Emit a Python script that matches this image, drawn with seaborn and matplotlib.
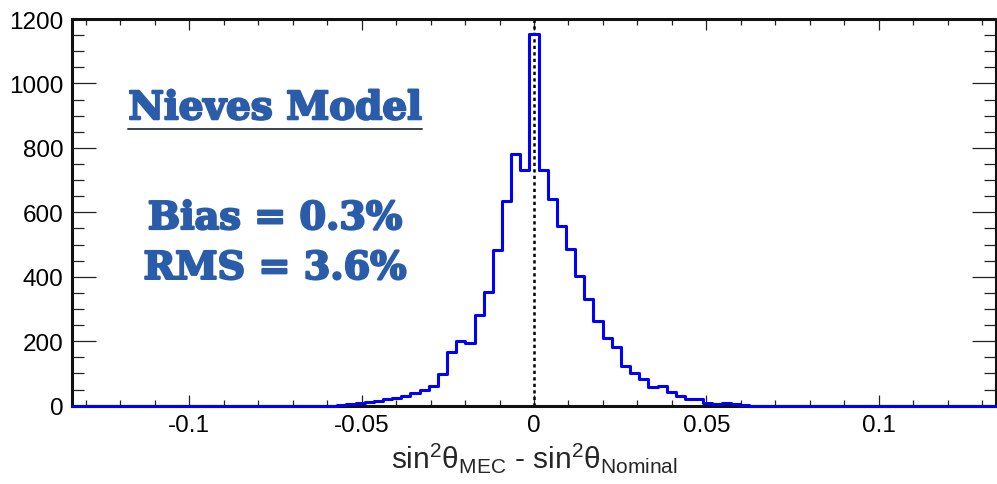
import numpy as np
import pandas as pd
import matplotlib
matplotlib.use("Agg")
import matplotlib.pyplot as plt
import matplotlib.patheffects as pe
import seaborn as sns

# ==============================
# DATA
# ==============================
x_lo, x_hi = -0.134, 0.134
n_bins = 101             # bin 0 is centred on 0
first_bin = -21          # index of the first non-empty bin
counts = [3, 6, 9, 12, 16, 20, 25, 30, 39, 50, 62, 98, 166, 200, 195,
          282, 352, 482, 635, 782, 730, 1155, 732, 640, 559, 487, 402,
          332, 264, 209, 181, 124, 102, 83, 59, 62, 42, 31, 21, 21, 8, 6,
          7, 5, 2]
model_name = "Nieves Model"
stats_text = ["Bias = 0.3%", "RMS = 3.6%"]
x_major = [-0.1, -0.05, 0, 0.05, 0.1]
x_tick_labels = ["-0.1", "-0.05", "0", "0.05", "0.1"]
y_major = [0, 200, 400, 600, 800, 1000, 1200]

bin_width = (x_hi - x_lo) / n_bins
centers = bin_width * np.arange(first_bin, first_bin + len(counts))
hist_df = pd.DataFrame({"delta": centers, "n": counts})

# ==============================
# STYLE
# ==============================
sns.set_theme(style="ticks")
plt.rcParams["font.family"] = ["Liberation Sans", "DejaVu Sans"]
plt.rcParams["mathtext.default"] = "regular"

fig = plt.figure(figsize=(9.97, 4.85), dpi=100)
ax = fig.add_axes([0.0722, 0.1614, 0.9268, 0.7973])

sns.histplot(data=hist_df, x="delta", weights="n", bins=n_bins,
             binrange=(x_lo, x_hi), element="step",
             fill=False, color="#0000ff", linewidth=2.2, ax=ax)
# blue outline sits on top of the frame, so the empty bins show along y=0
hist_line = ax.lines[-1]
hist_line.set_zorder(4)
hist_line.set_clip_on(False)

ax.axvline(0, color="black", linestyle=(0, (1.3, 1.3)), linewidth=1.8)

ax.set_xlim(x_lo, x_hi)
ax.set_ylim(0, 1200)
ax.set_xticks(x_major)
ax.set_xticklabels(x_tick_labels)
ax.set_xticks(np.arange(-0.13, 0.131, 0.01), minor=True)
ax.set_yticks(y_major)
ax.set_yticks(np.arange(0, 1201, 50), minor=True)

ax.tick_params(axis="both", which="both", direction="in", colors="#222222",
               labelcolor="black", labelsize=17.5, width=0.9)
ax.tick_params(axis="y", which="major", length=17, pad=6, right=True)
ax.tick_params(axis="y", which="minor", length=8.5, right=True)
ax.tick_params(axis="x", which="major", length=8, pad=6, top=True)
ax.tick_params(axis="x", which="minor", length=4, top=True)

for side in ["left", "bottom", "top", "right"]:
    ax.spines[side].set_linewidth(2.2)
    ax.spines[side].set_color("#111111")

ax.set_ylabel("")
ax.set_xlabel(r"sin$^{2}$θ$_{MEC}$ - sin$^{2}$θ$_{Nominal}$", fontsize=21.5,
              labelpad=3)

# ==============================
# TEXT BOX
# ==============================
blue = "#2a5caa"
heavy = [pe.withStroke(linewidth=1.6, foreground=blue)]
title = ax.text(0.220, 0.741, model_name, transform=ax.transAxes,
                ha="center", va="baseline", fontsize=28, fontweight="bold",
                family="DejaVu Serif", color=blue, path_effects=heavy)
ax.text(0.220, 0.457, stats_text[0], transform=ax.transAxes,
        ha="center", va="baseline", fontsize=27.5, fontweight="bold",
        family="DejaVu Serif", color=blue, path_effects=heavy)
ax.text(0.220, 0.328, stats_text[1], transform=ax.transAxes,
        ha="center", va="baseline", fontsize=27.5, fontweight="bold",
        family="DejaVu Serif", color=blue, path_effects=heavy)

# underline under the model name
fig.canvas.draw()
bb = title.get_window_extent().transformed(ax.transAxes.inverted())
ax.plot([bb.x0, bb.x1], [0.716, 0.716], transform=ax.transAxes,
        color="#3a3f4a", linewidth=1.4)

fig.savefig("out.png", dpi=100)
